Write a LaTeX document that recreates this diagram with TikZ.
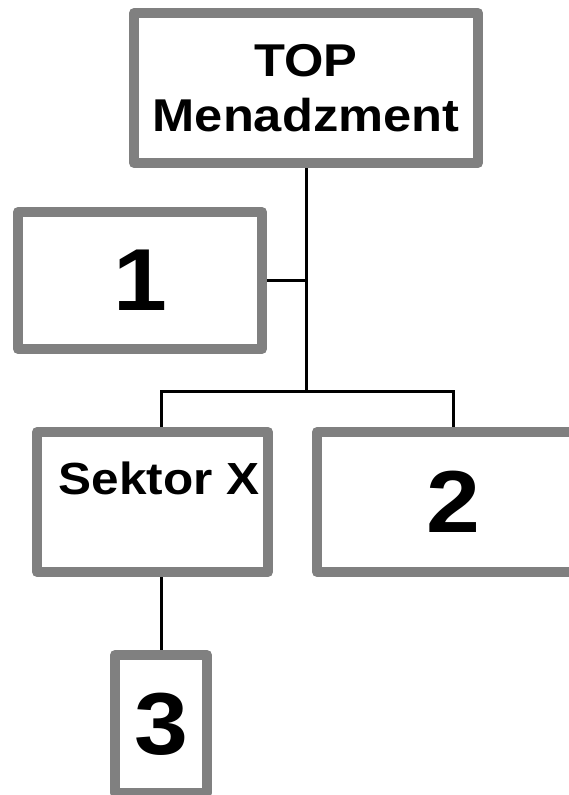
\documentclass[tikz,border=0pt]{standalone}
\usepackage{fontspec}
\setmainfont{Liberation Sans}[FakeStretch=1.1]
\definecolor{boxgray}{RGB}{128,128,128}
\tikzset{
  box/.style={draw=boxgray,line width=10pt,line join=round,fill=white,inner sep=0pt},
  conn/.style={draw=black,line width=3pt},
  word/.style={font=\fontsize{46}{55}\selectfont\bfseries},
  digit/.style={font=\fontsize{88}{88}\selectfont\bfseries}
}
\begin{document}
\begin{tikzpicture}[x=1pt,y=-1pt]
\useasboundingbox (0,0) rectangle (569,795);
% boxes
\node[box,word,align=center,minimum width=344pt,minimum height=150pt](top) at (306,88){TOP\\Menadzment};
\node[box,digit,minimum width=244pt,minimum height=137pt](one) at (140,280.5){1};
\node[box,font=\fontsize{45}{55}\selectfont\bfseries,text depth=47pt,minimum width=231pt,minimum height=140pt](sektor) at (152.5,502){\hspace*{13pt}Sektor X};
\node[box,digit,minimum width=272pt,minimum height=140pt](two) at (453,502){2};
\node[box,digit,minimum width=92pt,minimum height=138pt](three) at (161,724){3};
% lines
\coordinate (bus) at (306,391);
\draw[conn] (top.south) -- (bus);
\draw[conn] (one.east) -- (one.east -| bus);
\draw[conn] (sektor.north -| three.north) |- (bus) -| (two.north);
\draw[conn] (sektor.south -| three.north) -- (three.north);
\end{tikzpicture}
\end{document}
